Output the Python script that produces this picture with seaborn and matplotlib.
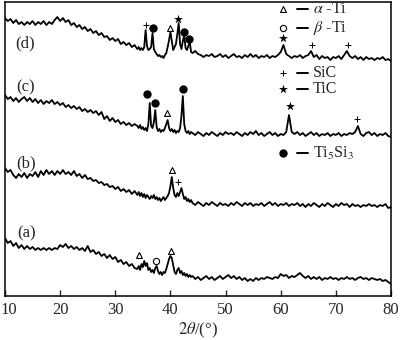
# XRD patterns (a)-(d) with phase markers
import numpy as np
import pandas as pd
import matplotlib
matplotlib.use("Agg")
import matplotlib.pyplot as plt
import matplotlib.transforms as mtrans
import seaborn as sns

# ---- data ----
# 2theta sampling: 0.5 deg steps, 0.25 deg in the 34-44 peak region
two_theta = np.concatenate([np.arange(10, 34, 0.5),
                            np.arange(34, 44, 0.25),
                            np.arange(44, 80.01, 0.5)])

int_d = ([278, 275, 277, 273, 276, 272, 274, 271, 274, 272, 275, 271, 274, 272, 275, 271,
          274, 272, 276, 279, 275, 278, 274, 276, 271, 273, 269, 271, 267, 269, 265, 267,
          263, 265, 261, 263, 259, 260, 256, 258, 255, 257, 252, 254, 251, 253, 249, 251]
         + [247, 249, 246, 248, 246, 249, 266, 250, 246, 247, 249, 263, 247, 244, 242, 240,
            241, 239, 240, 238, 241, 243, 249, 256, 264, 255, 246, 249, 252, 262, 273, 252,
            247, 255, 261, 248, 246, 250, 254, 244]
         + [243, 245, 242, 241, 239, 241, 240, 242, 239, 240, 242, 239, 241, 238, 240, 242,
            239, 240, 238, 241, 239, 242, 239, 241, 238, 240, 239, 241, 238, 240, 239, 241,
            244, 251, 242, 240, 238, 240, 239, 241, 238, 240, 241, 245, 239, 241, 237, 240,
            238, 239, 236, 239, 238, 240, 237, 241, 245, 240, 238, 240, 237, 239, 236, 239,
            237, 238, 236, 238, 237, 239, 236, 237, 235])

int_c = ([201, 197, 199, 195, 198, 194, 197, 199, 195, 198, 194, 197, 193, 196, 192, 195,
          193, 196, 192, 194, 191, 193, 189, 191, 188, 190, 187, 189, 185, 187, 184, 186,
          183, 185, 181, 184, 177, 180, 175, 178, 174, 176, 172, 174, 171, 173, 170, 172]
         + [170, 168, 171, 167, 169, 166, 168, 165, 172, 193, 170, 168, 174, 186, 169, 165,
            167, 164, 166, 165, 168, 172, 176, 168, 165, 167, 164, 166, 163, 165, 164, 168,
            180, 200, 172, 165, 163, 165, 162, 164]
         + [163, 161, 164, 162, 160, 163, 161, 164, 162, 160, 163, 161, 164, 162, 163, 161,
            164, 162, 160, 163, 161, 164, 162, 165, 161, 163, 160, 162, 164, 161, 163, 160,
            162, 161, 164, 181, 164, 162, 164, 161, 163, 160, 162, 164, 161, 163, 160, 162,
            161, 163, 160, 162, 161, 163, 160, 162, 161, 163, 162, 164, 170, 162, 160, 163,
            164, 161, 163, 160, 162, 161, 163, 160, 159])

int_b = ([128, 124, 126, 121, 118, 122, 119, 123, 118, 122, 120, 124, 119, 125, 121, 126,
          122, 125, 121, 125, 122, 126, 122, 124, 121, 125, 120, 122, 118, 121, 117, 118,
          115, 116, 113, 114, 111, 112, 109, 110, 107, 109, 105, 107, 104, 106, 102, 105]
         + [101, 104, 100, 103, 99, 102, 98, 101, 99, 97, 100, 98, 101, 97, 99, 96,
            98, 95, 97, 99, 96, 98, 100, 103, 110, 119, 108, 101, 99, 103, 100, 104,
            108, 102, 97, 99, 95, 97, 94, 96]
         + [93, 91, 94, 92, 90, 93, 91, 94, 92, 90, 93, 91, 92, 90, 93, 91,
            94, 92, 90, 93, 91, 93, 90, 92, 91, 93, 90, 92, 94, 91, 93, 90,
            92, 91, 93, 90, 92, 91, 93, 90, 92, 89, 92, 90, 93, 91, 89, 92,
            90, 93, 91, 89, 92, 90, 93, 91, 92, 89, 92, 90, 91, 89, 91, 90,
            92, 90, 91, 89, 91, 90, 92, 88, 89])

int_a = ([58, 53, 55, 50, 53, 48, 51, 47, 50, 47, 49, 46, 48, 46, 48, 46,
          48, 46, 48, 47, 51, 49, 52, 48, 50, 47, 49, 46, 48, 45, 50, 44,
          46, 42, 44, 40, 42, 38, 41, 37, 39, 34, 36, 32, 34, 30, 32, 28]
         + [27, 30, 26, 32, 29, 35, 30, 33, 26, 28, 24, 26, 23, 28, 30, 25,
            22, 24, 21, 24, 23, 27, 32, 37, 40, 38, 31, 24, 22, 26, 28, 23,
            25, 21, 23, 20, 22, 19, 21, 19]
         + [20, 17, 19, 16, 18, 20, 17, 19, 16, 18, 20, 17, 19, 21, 18, 20,
            17, 19, 16, 18, 15, 17, 15, 18, 16, 18, 17, 19, 18, 17, 19, 18,
            22, 20, 21, 18, 20, 19, 21, 23, 20, 18, 20, 17, 19, 17, 19, 16,
            18, 17, 19, 17, 18, 16, 18, 17, 19, 17, 18, 16, 18, 19, 17, 18,
            16, 18, 17, 16, 17, 15, 16, 14, 12])

# peak markers: 2theta, marker height, phase
mark_tt = [35.6, 36.9, 40.0, 41.4, 42.4, 43.3, 60.4, 65.6, 72.2,
           35.8, 37.2, 39.4, 42.2, 61.6, 73.9,
           40.3, 41.3,
           34.3, 37.4, 40.1]
mark_int = [271, 268, 268, 277, 264, 257, 258, 251, 251,
            202, 193, 183, 207, 190, 177,
            126, 114,
            41, 35, 45]
mark_phase = ["SiC", "Ti5Si3", "alpha", "TiC", "Ti5Si3", "Ti5Si3", "TiC", "SiC", "SiC",
              "Ti5Si3", "Ti5Si3", "alpha", "Ti5Si3", "TiC", "SiC",
              "alpha", "SiC",
              "alpha", "beta", "alpha"]

curve_names = ["(a)", "(b)", "(c)", "(d)"]
legend_labels = [r"$\alpha$ -Ti", r"$\beta$ -Ti", "SiC", "TiC", r"Ti$_5$Si$_3$"]

# ---- plotting ----
sns.set_style("ticks")
plt.rcParams["font.family"] = ["Liberation Serif", "DejaVu Serif"]
plt.rcParams["mathtext.fontset"] = "stix"

df = pd.DataFrame({"tt": np.tile(two_theta, 4),
                   "I": int_a + int_b + int_c + int_d,
                   "curve": np.repeat(curve_names, len(two_theta))})
marks = pd.DataFrame({"tt": mark_tt, "I": mark_int, "phase": mark_phase})

fig = plt.figure(figsize=(4, 3.4), dpi=100)
ax = fig.add_axes([0.0125, 0.1294, 0.965, 0.8646])

sns.lineplot(data=df, x="tt", y="I", units="curve", estimator=None, color="black",
             lw=1.3, ax=ax, legend=False)

styles = {
    "alpha": dict(marker="^", s=18, facecolor="white", edgecolor="black", linewidth=0.8),
    "beta": dict(marker="o", s=20, facecolor="white", edgecolor="black", linewidth=0.8),
    "SiC": dict(marker="+", s=22, color="black", linewidth=0.7),
    "TiC": dict(marker="*", s=45, color="black", linewidth=0),
    "Ti5Si3": dict(marker="o", s=36, color="black", linewidth=0),
}
for ph, kw in styles.items():
    sub = marks[marks["phase"] == ph]
    sns.scatterplot(data=sub, x="tt", y="I", ax=ax, legend=False, zorder=3, **kw)

# legend keys drawn by hand
leg_rows = [0.978, 0.913, 0.759, 0.704, 0.486]
for ph, y, lab in zip(styles, leg_rows, legend_labels):
    kw = dict(styles[ph])
    ax.scatter([0.720], [y], transform=ax.transAxes, clip_on=False, zorder=3, **kw)
    ax.plot([0.756, 0.785], [y, y], transform=ax.transAxes, color="black", lw=1.4)
    ax.text(0.798, y, lab, transform=ax.transAxes, fontsize=11.5, va="center", ha="left")

# curve labels
for name, (x, y) in zip(curve_names, [(0.057, 0.214), (0.054, 0.452),
                                      (0.052, 0.711), (0.052, 0.861)]):
    ax.text(x, y, name, transform=ax.transAxes, fontsize=12, ha="center", va="center")

ax.set_xlim(10, 80)
ax.set_ylim(0, 294)
ax.set_xticks(range(10, 81, 10))
ax.set_yticks([])
ax.tick_params(axis="x", direction="in", length=4, width=1, labelsize=12, pad=4)
ax.set_xlabel(r"$\mathit{2\theta}$/(°)", fontsize=12, labelpad=2)
ax.set_ylabel("")
for sp in ax.spines.values():
    sp.set_visible(True)
    sp.set_linewidth(1.1)
    sp.set_color("black")

# keep the "10" label inside the figure, as in the reference
first = ax.get_xticklabels()[0]
first.set_transform(first.get_transform() +
                    mtrans.ScaledTranslation(3.5 / 100, 0, fig.dpi_scale_trans))

fig.savefig("out.png", dpi=100)
